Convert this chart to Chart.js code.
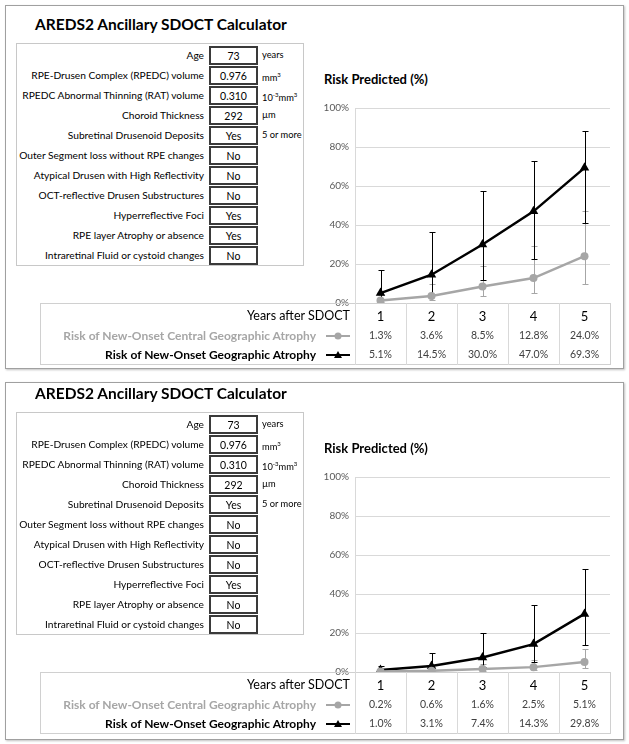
<!DOCTYPE html>
<html>
<head>
<meta charset="utf-8">
<script src="https://cdn.jsdelivr.net/npm/chart.js@4.4.1/dist/chart.umd.min.js"></script>
<style>
  body { margin: 0; width: 629px; height: 744px; background: #fff; font-family: Lato, "Open Sans", sans-serif; color: #000; position: relative; overflow: hidden; }
  .frame { position: absolute; left: 5px; width: 619px; border: 1px solid #a0a0a0; box-shadow: 1px 1px 2px rgba(0,0,0,0.25); box-sizing: border-box; }
  .panel { position: absolute; left: 0; width: 629px; height: 370px; }
  .title { position: absolute; left: 35px; top: 15px; font-weight: bold; font-size: 15.5px; white-space: nowrap; }
  .form { position: absolute; left: 16px; top: 43px; width: 288px; height: 223px; border: 1px solid #c8c8c8; box-sizing: border-box; }
  .lbl { position: absolute; left: 0; width: 204px; text-align: right; font-size: 10.2px; line-height: 20px; white-space: nowrap; }
  .box { position: absolute; left: 209px; width: 49px; height: 19px; border: 2px solid #3a3a3a; box-sizing: border-box; text-align: center; font-size: 10.5px; line-height: 16px; }
  .unit { position: absolute; left: 262px; font-size: 9.3px; line-height: 20px; white-space: nowrap; }
  .unit sup { font-size: 6px; vertical-align: 4px; }
  .ctitle { position: absolute; left: 324px; top: 71px; font-weight: bold; font-size: 13px; white-space: nowrap; }
  .cv { position: absolute; left: 300px; top: 60px; width: 318px; height: 255px; }
  .dtable { position: absolute; border: 1px solid #d0d0d0; box-sizing: border-box; }
  .vline { position: absolute; width: 1px; background: #d9d9d9; }
  .cell { position: absolute; text-align: center; white-space: nowrap; }
  .rlab { position: absolute; text-align: right; white-space: nowrap; }
</style>
</head>
<body>
<script>
// form fields
const formLabels = ['Age', 'RPE-Drusen Complex (RPEDC) volume', 'RPEDC Abnormal Thinning (RAT) volume',
  'Choroid Thickness', 'Subretinal Drusenoid Deposits', 'Outer Segment loss without RPE changes',
  'Atypical Drusen with High Reflectivity', 'OCT-reflective Drusen Substructures', 'Hyperreflective Foci',
  'RPE layer Atrophy or absence', 'Intraretinal Fluid or cystoid changes']
const formUnits = ['years', 'mm<sup>3</sup>', '10<sup>-3</sup>mm<sup>3</sup>', 'µm', '5 or more', '', '', '', '', '', '']
const formValues1 = ['73', '0.976', '0.310', '292', 'Yes', 'No', 'No', 'No', 'Yes', 'Yes', 'No']
const formValues2 = ['73', '0.976', '0.310', '292', 'Yes', 'No', 'No', 'No', 'Yes', 'No', 'No']

// chart data
const years = ['1', '2', '3', '4', '5']
const yTicks = [0, 20, 40, 60, 80, 100]
const headerLabel = 'Years after SDOCT'
const labelCentral = 'Risk of New-Onset Central Geographic Atrophy'
const labelGA = 'Risk of New-Onset Geographic Atrophy'

const central1 = [1.3, 3.6, 8.5, 12.8, 24.0]
const central1Lo = [0.4, 1.3, 3.6, 5.0, 10.0]
const central1Hi = [4.2, 9.8, 19.0, 29.0, 47.4]
const ga1 = [5.1, 14.5, 30.0, 47.0, 69.3]
const ga1Lo = [1.4, 4.8, 12.0, 22.5, 41.0]
const ga1Hi = [17.0, 36.2, 57.2, 73.0, 88.0]

const central2 = [0.2, 0.6, 1.6, 2.5, 5.1]
const central2Lo = [0.1, 0.2, 0.6, 0.9, 2.1]
const central2Hi = [0.6, 1.6, 4.0, 6.0, 12.0]
const ga2 = [1.0, 3.1, 7.4, 14.3, 29.8]
const ga2Lo = [0.3, 0.9, 2.5, 5.3, 13.9]
const ga2Hi = [3.1, 9.8, 20.0, 34.2, 53.0]

const GRAY = '#a6a6a6'

// error bars from dataset lo / hi arrays
const errorBars = {
  id: 'errorBars',
  beforeDatasetsDraw(chart) {
    const { ctx, scales: { x, y } } = chart
    chart.data.datasets.forEach(ds => {
      ctx.save()
      ctx.strokeStyle = ds.barColor
      ctx.lineWidth = 1
      ds.data.forEach((v, i) => {
        const px = Math.round(x.getPixelForValue(i)) + 0.5
        const top = Math.round(y.getPixelForValue(ds.hi[i])) + 0.5
        const bot = Math.round(y.getPixelForValue(ds.lo[i])) + 0.5
        ctx.beginPath()
        ctx.moveTo(px, top); ctx.lineTo(px, bot)
        ctx.moveTo(px - 3, top); ctx.lineTo(px + 3, top)
        ctx.moveTo(px - 3, bot); ctx.lineTo(px + 3, bot)
        ctx.stroke()
      })
      ctx.restore()
    })
  }
}

function el(parent, cls, html, css) {
  const d = document.createElement('div')
  if (cls) d.className = cls
  if (html !== undefined) d.innerHTML = html
  Object.assign(d.style, css || {})
  parent.appendChild(d)
  return d
}

function legendKey(type) {
  const mark = type === 'circle'
    ? `<circle cx="12" cy="5" r="3.5" fill="${GRAY}"/>`
    : `<polygon points="12,1 16,8 8,8" fill="#000"/>`
  const col = type === 'circle' ? GRAY : '#000'
  return `<svg width="24" height="10"><line x1="0" y1="5" x2="24" y2="5" stroke="${col}" stroke-width="2"/>${mark}</svg>`
}

function buildPanel(offsetY, values, central, centralLo, centralHi, ga, gaLo, gaHi) {
  const p = el(document.body, 'panel', undefined, { top: offsetY + 'px' })
  el(p, 'title', 'AREDS2 Ancillary SDOCT Calculator')
  el(p, 'form')
  formLabels.forEach((lab, i) => {
    const cy = 55 + i * 20
    el(p, 'lbl', lab, { top: (cy - 10) + 'px' })
    el(p, 'box', values[i], { top: (cy - 9) + 'px' })
    if (formUnits[i]) el(p, 'unit', formUnits[i], { top: (cy - 10) + 'px' })
  })
  el(p, 'ctitle', 'Risk Predicted (%)')

  const wrap = el(p, 'cv')
  const canvas = document.createElement('canvas')
  canvas.width = 318; canvas.height = 255
  wrap.appendChild(canvas)

  const chart = new Chart(canvas, {
    type: 'line',
    data: {
      labels: years,
      datasets: [
        { label: labelCentral, data: central, lo: centralLo, hi: centralHi, barColor: GRAY,
          borderColor: GRAY, backgroundColor: GRAY, borderWidth: 2.5,
          pointStyle: 'circle', pointRadius: 4, pointBorderWidth: 0 },
        { label: labelGA, data: ga, lo: gaLo, hi: gaHi, barColor: '#000',
          borderColor: '#000', backgroundColor: '#000', borderWidth: 2.5,
          pointStyle: 'triangle', pointRadius: 5.5, pointBorderWidth: 0 }
      ]
    },
    options: {
      responsive: false,
      animation: false,
      events: [],
      layout: { padding: { top: 48, right: 8, bottom: 3, left: 0 } },
      scales: {
        x: { display: false, offset: true },
        y: {
          min: 0, max: 100,
          afterFit: s => { s.width = 55 },
          afterBuildTicks: s => { s.ticks = yTicks.map(v => ({ value: v })) },
          ticks: { callback: v => v + '%', color: '#595959', font: { size: 10, family: 'Lato' }, padding: 6 },
          grid: { color: '#d9d9d9', drawTicks: false },
          border: { color: '#d9d9d9' }
        }
      },
      plugins: { legend: { display: false }, tooltip: { enabled: false } }
    },
    plugins: [errorBars]
  })

  // data table under the plot, columns follow the x scale
  const area = chart.chartArea
  const xs = chart.scales.x
  const top = Math.round(60 + area.bottom)
  const left = 40
  const right = 300 + area.right
  const colW = (area.right - area.left) / years.length
  const h = 62
  el(p, 'dtable', undefined, { left: left + 'px', top: top + 'px', width: (right - left + 1) + 'px', height: h + 'px' })
  for (let i = 0; i < years.length; i++) {
    el(p, 'vline', undefined, { left: (300 + area.left + i * colW) + 'px', top: top + 'px', height: h + 'px' })
  }
  const rows = [top + 14, top + 33, top + 52]
  el(p, 'rlab', headerLabel, { right: (629 - 350) + 'px', top: (rows[0] - 9) + 'px', fontSize: '12.5px' })
  el(p, 'rlab', labelCentral, { right: (629 - 316) + 'px', top: (rows[1] - 8) + 'px', fontSize: '12px', fontWeight: 'bold', color: GRAY })
  el(p, 'rlab', labelGA, { right: (629 - 316) + 'px', top: (rows[2] - 8) + 'px', fontSize: '12px', fontWeight: 'bold' })
  el(p, '', legendKey('circle'), { position: 'absolute', left: '326px', top: (rows[1] - 5) + 'px', height: '10px', lineHeight: '0' })
  el(p, '', legendKey('triangle'), { position: 'absolute', left: '326px', top: (rows[2] - 5) + 'px', height: '10px', lineHeight: '0' })
  years.forEach((yr, i) => {
    const cx = 300 + xs.getPixelForValue(i)
    const css = { left: (cx - colW / 2) + 'px', width: colW + 'px' }
    el(p, 'cell', yr, Object.assign({ top: (rows[0] - 9) + 'px', fontSize: '13px' }, css))
    el(p, 'cell', central[i].toFixed(1) + '%', Object.assign({ top: (rows[1] - 7) + 'px', fontSize: '10.5px', color: '#404040' }, css))
    el(p, 'cell', ga[i].toFixed(1) + '%', Object.assign({ top: (rows[2] - 7) + 'px', fontSize: '10.5px', color: '#404040' }, css))
  })
}

el(document.body, 'frame', undefined, { top: '5px', height: '364px' })
el(document.body, 'frame', undefined, { top: '382px', height: '358px' })
buildPanel(0, formValues1, central1, central1Lo, central1Hi, ga1, ga1Lo, ga1Hi)
buildPanel(369, formValues2, central2, central2Lo, central2Hi, ga2, ga2Lo, ga2Hi)
</script>
</body>
</html>
